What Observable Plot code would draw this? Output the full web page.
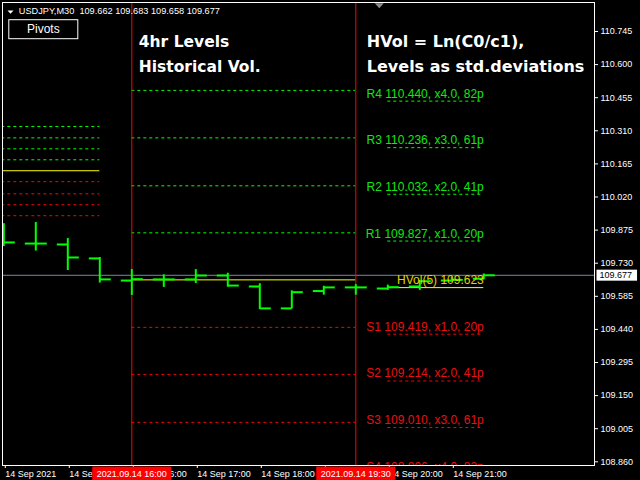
<!DOCTYPE html>
<html><head><meta charset="utf-8">
<script src="https://cdn.jsdelivr.net/npm/d3@7"></script>
<script src="https://cdn.jsdelivr.net/npm/@observablehq/plot@0.6"></script>
<style>html,body{margin:0;padding:0;background:#000;overflow:hidden}</style>
</head><body><div id="chart"></div>
<script>
// ---------- data ----------
const symbolName = "USDJPY";
const timeframe = "M30";
const barTimes = ["14:00","14:30","15:00","15:30","16:00","16:30","17:00","17:30","18:00","18:30","19:00","19:30","20:00","20:30","21:00","21:30"];
const opens  = [109.850,109.816,109.812,109.751,109.654,109.659,109.659,109.676,109.628,109.532,109.608,109.624,109.619,109.628,109.654,109.662];
const highs  = [109.903,109.908,109.838,109.755,109.702,109.679,109.702,109.686,109.640,109.609,109.629,109.636,109.634,109.654,109.669,109.683];
const lows   = [109.803,109.783,109.698,109.643,109.589,109.624,109.641,109.625,109.527,109.530,109.590,109.590,109.611,109.611,109.647,109.658];
const closes = [109.821,109.816,109.755,109.659,109.660,109.659,109.676,109.632,109.532,109.603,109.624,109.624,109.625,109.651,109.657,109.677];

const levelNames = ["R4","R3","R2","R1","HVol(5)","S1","S2","S3","S4"];
const levelKinds = ["R","R","R","R","H","S","S","S","S"];
const levelMultipliers = [4,3,2,1,0,1,2,3,4];
const levelPips = [82,61,41,20,0,20,41,61,82];
const previousLevels = [110.487,110.279,110.069,109.863,109.657,109.449,109.243,109.033,108.826];
const currentLevels  = [110.440,110.236,110.032,109.827,109.623,109.419,109.214,109.010,108.806];

const pivotLevels = [110.329,110.279,110.231,110.183,110.135,110.087,110.034,109.986,109.938];
const pivotKinds  = ["R","R","R","R","P","S","S","S","S"];
const pivotSpan = ["12:00","15:30"];

const periodMarks = ["16:00","19:30"];
const previousSpan = ["16:00","19:30"];
const currentSpan = ["20:00","21:30"];

const yTicks = [110.745,110.600,110.455,110.310,110.165,110.020,109.875,109.730,109.585,109.440,109.295,109.150,109.005,108.860];
const xTickTimes = ["14:00","15:00","16:00","17:00","18:00","19:00","20:00","21:00"];
const xTickLabels = ["14 Sep 2021","14 Sep 15:00","14 Sep 16:00","14 Sep 17:00","14 Sep 18:00","14 Sep 19:00","14 Sep 20:00","14 Sep 21:00"];

const titleLeft = ["4hr Levels","Historical Vol."];
const titleRight = ["HVol = Ln(C0/c1),","Levels as std.deviations"];
const buttonText = ["Pivots"];
const chartShiftTime = "19:52";

// ---------- build ----------
const t = s => new Date(`2021-09-14T${s}:00Z`);
const bars = barTimes.map((s,i) => ({time: t(s), open: opens[i], high: highs[i], low: lows[i], close: closes[i]}));
const last = bars[bars.length-1];

const lineColor = {R: "#00ff00", S: "#ff0000", H: "#ffff00", P: "#ffff00"};
const textColor = {R: "#14e614", S: "#e81010", H: "#e0d400"};
const levels = levelNames.map((n,i) => ({
  name: n, kind: levelKinds[i], prev: previousLevels[i], cur: currentLevels[i],
  label: levelKinds[i] === "H" ? `${n} ${currentLevels[i].toFixed(3)}`
        : `${n} ${currentLevels[i].toFixed(3)}, x${levelMultipliers[i].toFixed(1)}, ${levelPips[i]}p`,
  color: lineColor[levelKinds[i]], tcolor: textColor[levelKinds[i]]
}));
const srLevels = levels.filter(d => d.kind !== "H");
const hvLevels = levels.filter(d => d.kind === "H");
const pivots = pivotLevels.map((v,i) => ({value: v, kind: pivotKinds[i], color: lineColor[pivotKinds[i]]}));

const leftTick = {draw(ctx, size){ const r = Math.sqrt(size/Math.PI); ctx.moveTo(-r,0); ctx.lineTo(0,0); }};
const rightTick = {draw(ctx, size){ const r = Math.sqrt(size/Math.PI); ctx.moveTo(0,0); ctx.lineTo(r,0); }};
const downTri = {draw(ctx, size){ const r = Math.sqrt(size/Math.PI); ctx.moveTo(-r,0); ctx.lineTo(r,0); ctx.lineTo(0,r*1.1); ctx.closePath(); }};

const labelMap = new Map(xTickTimes.map((s,i) => [+t(s), xTickLabels[i]]));
const fmtTag = d3.utcFormat("%Y.%m.%d %H:%M");
const green = "#00ff00";
const tagTexts = periodMarks.map(s => fmtTag(t(s)));
const priceText = last.close.toFixed(3);

const plot = Plot.plot({
  width: 640, height: 480,
  marginLeft: 2, marginRight: 46, marginTop: 2, marginBottom: 15,
  style: {background: "black", color: "white", fontFamily: "'Liberation Sans', Arial, sans-serif", fontSize: "9px", overflow: "visible"},
  x: {type: "utc", domain: [new Date("2021-09-14T13:58:47Z"), new Date("2021-09-14T23:13:47Z")]},
  y: {domain: [108.8438, 110.872]},
  color: {type: "identity"},
  marks: [
    Plot.ruleY([last.close], {stroke: "#778899"}),
    Plot.ruleY(pivots.filter(d => d.kind !== "P"), {y: "value", x1: () => t(pivotSpan[0]), x2: () => t(pivotSpan[1]), stroke: "color", strokeDasharray: "3,3", clip: true}),
    Plot.ruleY(pivots.filter(d => d.kind === "P"), {y: "value", x1: () => t(pivotSpan[0]), x2: () => t(pivotSpan[1]), stroke: "color", clip: true}),
    Plot.ruleY(srLevels, {y: "prev", x1: () => t(previousSpan[0]), x2: () => t(previousSpan[1]), stroke: "color", strokeDasharray: "3,3", clip: true}),
    Plot.ruleY(hvLevels, {y: "prev", x1: () => t(previousSpan[0]), x2: () => t(previousSpan[1]), stroke: "color", clip: true}),
    Plot.ruleY(srLevels, {y: "cur", x1: () => t(currentSpan[0]), x2: () => t(currentSpan[1]), stroke: "color", strokeDasharray: "3,3", clip: true}),
    Plot.ruleY(hvLevels, {y: "cur", x1: () => t(currentSpan[0]), x2: () => t(currentSpan[1]), stroke: "color", clip: true}),
    Plot.ruleX(periodMarks.map(t), {stroke: "#ff0000"}),
    Plot.ruleX(bars, {x: "time", y1: "low", y2: "high", stroke: green, strokeWidth: 2, clip: true}),
    Plot.dot(bars, {x: "time", y: "open", symbol: leftTick, r: 11, fill: "none", stroke: green, strokeWidth: 2, clip: true}),
    Plot.dot(bars, {x: "time", y: "close", symbol: rightTick, r: 11, fill: "none", stroke: green, strokeWidth: 2, clip: true}),
    Plot.text(levels, {x: () => last.time, y: "cur", text: "label", fill: "tcolor", textAnchor: "end", lineAnchor: "bottom", dy: -3.5, fontSize: 12, clip: true}),
    Plot.frame({stroke: "white"}),
    Plot.axisY(yTicks, {anchor: "right", tickSize: 3, tickPadding: 3, tickFormat: d3.format(".3f"), fontSize: 9, label: null}),
    Plot.axisX(xTickTimes.map(t), {anchor: "bottom", tickSize: 3, tickPadding: 2, tickFormat: d => labelMap.get(+d), textAnchor: "start", dx: 1.5, fontSize: 9, label: null}),
    Plot.text(periodMarks.map(t), {x: d => d, frameAnchor: "bottom", dy: 5, lineAnchor: "top", text: d => fmtTag(d), fill: "white", fontSize: 9}),
    Plot.text([last.close], {y: d => d, frameAnchor: "right", dx: 5, textAnchor: "start", lineAnchor: "middle", text: d => d.toFixed(3), fill: "black", fontSize: 9}),
    Plot.text([titleLeft.join("\n")], {x: () => t(periodMarks[0]), frameAnchor: "top", dx: 7, dy: 26.6, lineAnchor: "top", textAnchor: "start", lineHeight: 1.6129, fontFamily: "'DejaVu Sans', sans-serif", fontWeight: "bold", fontSize: 15.5, fill: "white"}),
    Plot.text([titleRight.join("\n")], {x: () => t(periodMarks[1]), frameAnchor: "top", dx: 11, dy: 26.6, lineAnchor: "top", textAnchor: "start", lineHeight: 1.5625, fontFamily: "'DejaVu Sans', sans-serif", fontWeight: "bold", fontSize: 16, fill: "white"}),
    Plot.text(buttonText, {frameAnchor: "top-left", dx: 40.8, dy: 30.7, lineAnchor: "bottom", textAnchor: "middle", fontSize: 12, fill: "white"}),
    Plot.dot([0], {frameAnchor: "top-left", dx: 8, dy: 8, symbol: downTri, r: 3, fill: "white", stroke: "none"}),
    Plot.text([`${symbolName},${timeframe}\u00a0 ${last.open.toFixed(3)} ${last.high.toFixed(3)} ${last.low.toFixed(3)} ${last.close.toFixed(3)}`], {frameAnchor: "top-left", dx: 16.3, dy: 11.3, lineAnchor: "bottom", textAnchor: "start", fontSize: 9.2, fill: "white"}),
    Plot.dot([t(chartShiftTime)], {x: d => d, frameAnchor: "top", dy: 0.7, symbol: downTri, r: 4.5, fill: "#8c8c8c", stroke: "none"})
  ]
});
document.getElementById("chart").append(plot);

// background boxes behind certain texts (found by their content)
function findTexts(content) {
  return Array.from(plot.querySelectorAll("text")).filter(el => el.textContent === content);
}
function boxBehind(content, fill, padL, padR, padT, padB, stroke) {
  findTexts(content).forEach(el => {
    const b = el.getBBox();
    const r = document.createElementNS("http://www.w3.org/2000/svg", "rect");
    r.setAttribute("x", b.x - padL);
    r.setAttribute("y", b.y - padT);
    r.setAttribute("width", b.width + padL + padR);
    r.setAttribute("height", b.height + padT + padB);
    r.setAttribute("fill", fill);
    if (stroke) r.setAttribute("stroke", stroke);
    const tr = el.getAttribute("transform");
    if (tr) r.setAttribute("transform", tr);
    el.parentNode.insertBefore(r, el);
  });
}
tagTexts.forEach(s => boxBehind(s, "#ff0000", 4.5, 4.5, 2.3, 1.7));
boxBehind(priceText, "#ffffff", 3, 5, 0.5, 0.5);
// "Pivots" button frame
findTexts(buttonText[0]).forEach(el => {
  const b = el.getBBox();
  const cx = b.x + b.width / 2, cy = b.y + b.height / 2;
  const r = document.createElementNS("http://www.w3.org/2000/svg", "rect");
  r.setAttribute("x", cx - 34.5);
  r.setAttribute("y", cy - 9.5);
  r.setAttribute("width", 69);
  r.setAttribute("height", 19);
  r.setAttribute("fill", "black");
  r.setAttribute("stroke", "white");
  const tr = el.getAttribute("transform");
  if (tr) r.setAttribute("transform", tr);
  el.parentNode.insertBefore(r, el);
});
</script>
</body></html>
